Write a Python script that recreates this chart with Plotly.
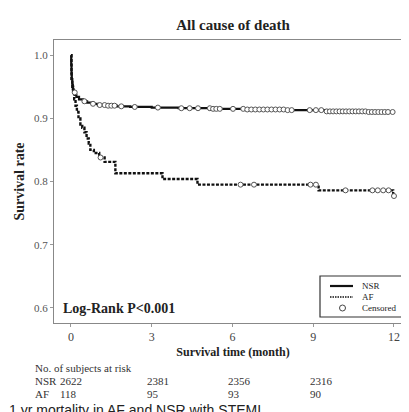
import bisect
import plotly.graph_objects as go

# ---- data ----
nsr_t = [0, 0.01, 0.02, 0.03, 0.05, 0.07, 0.1, 0.15, 0.2, 0.3, 0.45, 0.6, 0.8, 1.0,
         1.3, 1.7, 2.2, 3.0, 4.0, 5.2, 6.5, 8.0, 9.5, 11.0, 11.95]
nsr_s = [1.0, 0.985, 0.972, 0.962, 0.953, 0.946, 0.941, 0.937, 0.934, 0.930, 0.927,
         0.925, 0.923, 0.921, 0.920, 0.919, 0.918, 0.917, 0.916, 0.915, 0.914, 0.913,
         0.911, 0.910, 0.910]
af_t = [0, 0.02, 0.05, 0.08, 0.12, 0.17, 0.22, 0.28, 0.35, 0.42, 0.5, 0.58, 0.66,
        0.72, 0.85, 1.05, 1.25, 1.65, 3.4, 4.7, 9.2, 11.97, 12.0]
af_s = [1.0, 0.96, 0.95, 0.94, 0.93, 0.92, 0.91, 0.90, 0.89, 0.885, 0.878, 0.868,
        0.86, 0.85, 0.845, 0.838, 0.831, 0.813, 0.804, 0.795, 0.786, 0.777, 0.777]

nsr_cens = [0.14, 0.5, 0.82, 1.07, 1.25, 1.38, 1.5, 1.62, 1.87, 2.37, 3.23, 4.1, 4.41,
            4.72, 5.16, 5.28, 5.4, 5.53, 6.02, 6.4, 6.55, 6.7, 6.85, 7.0, 7.15, 7.3,
            7.45, 7.6, 7.75, 7.9, 8.05, 8.2, 8.87, 9.1, 9.3, 9.5, 9.62, 9.74, 9.86,
            9.98, 10.1, 10.22, 10.34, 10.46, 10.58, 10.7, 10.82, 10.94, 11.06, 11.18,
            11.3, 11.42, 11.54, 11.66, 11.78, 11.95]
af_cens = [1.1, 6.3, 6.8, 8.9, 9.1, 10.2, 11.2, 11.4, 11.6, 11.8, 12.0]

risk_groups = ["NSR", "AF"]
risk_nsr = ["2622", "2381", "2356", "2316", "2028"]
risk_af = ["118", "95", "93", "90", "76"]
legend_labels = ["NSR", "AF", "Censored"]
x_ticks = [0, 3, 6, 9, 12]
y_ticks = [0.6, 0.7, 0.8, 0.9, 1.0]
y_tick_labels = ["0.6", "0.7", "0.8", "0.9", "1.0"]


def surv_at(t, times, surv):
    i = bisect.bisect_right(times, t) - 1
    return surv[max(i, 0)]


SERIF = "Liberation Serif, DejaVu Serif, serif"
LINE_NSR = dict(color="#111", width=2.2)
LINE_AF = dict(color="#111", width=2.4, dash="3px,1.5px")
CENS = dict(symbol="circle", size=5, color="white", line=dict(color="#555", width=1))

fig = go.Figure()
fig.add_trace(go.Scatter(x=nsr_t, y=nsr_s, mode="lines", line_shape="hv", name="NSR",
                         line=LINE_NSR))
fig.add_trace(go.Scatter(x=af_t, y=af_s, mode="lines", line_shape="hv", name="AF",
                         line=LINE_AF))
fig.add_trace(go.Scatter(x=nsr_cens, y=[surv_at(t, nsr_t, nsr_s) for t in nsr_cens],
                         mode="markers", name="Censored", marker=CENS))
fig.add_trace(go.Scatter(x=af_cens, y=[surv_at(t, af_t, af_s) for t in af_cens],
                         mode="markers", name="Censored", marker=CENS))

L, R, T, B = 46, 5, 32, 97
W, H = 409, 412
pw = W - L - R
ph = H - T - B


def px_x(p):
    return (p - L) / pw


def px_y(p):
    return (H - B - p) / ph


ann = []
shapes = []

# --- legend box (drawn by hand so it stays compact like the reference) ---
lg_x0, lg_x1, lg_y0, lg_y1 = 312, 397, 268, 309
shapes.append(dict(type="rect", xref="paper", yref="paper", x0=px_x(lg_x0),
                   x1=px_x(lg_x1), y0=px_y(lg_y1), y1=px_y(lg_y0),
                   line=dict(color="#333", width=1.2), fillcolor="white", layer="above"))
item_y = [278, 289, 300]
shapes.append(dict(type="line", xref="paper", yref="paper", x0=px_x(322), x1=px_x(345),
                   y0=px_y(item_y[0]), y1=px_y(item_y[0]),
                   line=dict(color="#111", width=2.2), layer="above"))
shapes.append(dict(type="line", xref="paper", yref="paper", x0=px_x(322), x1=px_x(345),
                   y0=px_y(item_y[1]), y1=px_y(item_y[1]),
                   line=dict(color="#111", width=1.6, dash="1.5px,1px"), layer="above"))
shapes.append(dict(type="circle", xref="paper", yref="paper", x0=px_x(331.5),
                   x1=px_x(337.5), y0=px_y(item_y[2] + 3), y1=px_y(item_y[2] - 3),
                   line=dict(color="#444", width=1), fillcolor="white", layer="above"))
for lab, yy in zip(legend_labels, item_y):
    ann.append(dict(text=lab, x=px_x(352), y=px_y(yy), xref="paper", yref="paper",
                    xanchor="left", yanchor="middle", showarrow=False,
                    font=dict(family=SERIF, size=9, color="#222")))

ann.append(dict(text="<b>Log-Rank P<0.001</b>", x=px_x(53), y=px_y(300), xref="paper",
                yref="paper", xanchor="left", yanchor="middle", showarrow=False,
                font=dict(family=SERIF, size=14, color="#222")))

# --- number at risk table ---
ann.append(dict(text="No. of subjects at risk", x=px_x(25), y=px_y(360), xref="paper",
                yref="paper", xanchor="left", yanchor="middle", showarrow=False,
                font=dict(family=SERIF, size=11, color="#333")))
col_px = [50, 137, 218, 300, 397]
for row, (g, vals) in enumerate(zip(risk_groups, [risk_nsr, risk_af])):
    yy = px_y(373 + 13 * row)
    ann.append(dict(text=g, x=px_x(25), y=yy, xref="paper", yref="paper",
                    xanchor="left", yanchor="middle", showarrow=False,
                    font=dict(family=SERIF, size=11, color="#333")))
    for cp, v in zip(col_px, vals):
        ann.append(dict(text=v, x=px_x(cp), y=yy, xref="paper", yref="paper",
                        xanchor="left", yanchor="middle", showarrow=False,
                        font=dict(family=SERIF, size=11, color="#333")))

# caption strip (white background overlaps the bottom of the AF row, as in the image)
ann.append(dict(text="1 yr mortality in AF and NSR with STEMI", x=px_x(0),
                y=px_y(392), xref="paper", yref="paper", xanchor="left", yanchor="top",
                showarrow=False, bgcolor="white", width=405, height=17, align="left",
                valign="middle", borderpad=0,
                font=dict(family="Liberation Sans, Arial, sans-serif", size=14,
                          color="#222")))

fig.update_layout(
    width=W, height=H, margin=dict(l=L, r=R, t=T, b=B),
    paper_bgcolor="white", plot_bgcolor="white", showlegend=False,
    title=dict(text="<b>All cause of death</b>", x=px_x(225), xref="paper",
               xanchor="center", y=1 - 17 / H, yanchor="middle",
               font=dict(family=SERIF, size=15, color="#222")),
    xaxis=dict(range=[-0.63, 12.67], tickvals=x_ticks, ticks="outside", ticklen=3,
               tickcolor="#999", showgrid=False, zeroline=False, showline=True,
               linecolor="#888", linewidth=1, mirror=True,
               tickfont=dict(family=SERIF, size=12, color="#444"),
               title=dict(text="<b>Survival time (month)</b>", standoff=4,
                          font=dict(family=SERIF, size=12, color="#222"))),
    yaxis=dict(range=[0.576, 1.024], tickvals=y_ticks, ticktext=y_tick_labels,
               ticks="outside", ticklen=3, tickcolor="#999", showgrid=False,
               zeroline=False, showline=True, linecolor="#888", linewidth=1,
               mirror=True, tickfont=dict(family=SERIF, size=11, color="#555"),
               title=dict(text="<b>Survival rate</b>", standoff=6,
                          font=dict(family=SERIF, size=14, color="#222"))),
    annotations=ann,
    shapes=shapes,
)
fig.write_html("out.html")
